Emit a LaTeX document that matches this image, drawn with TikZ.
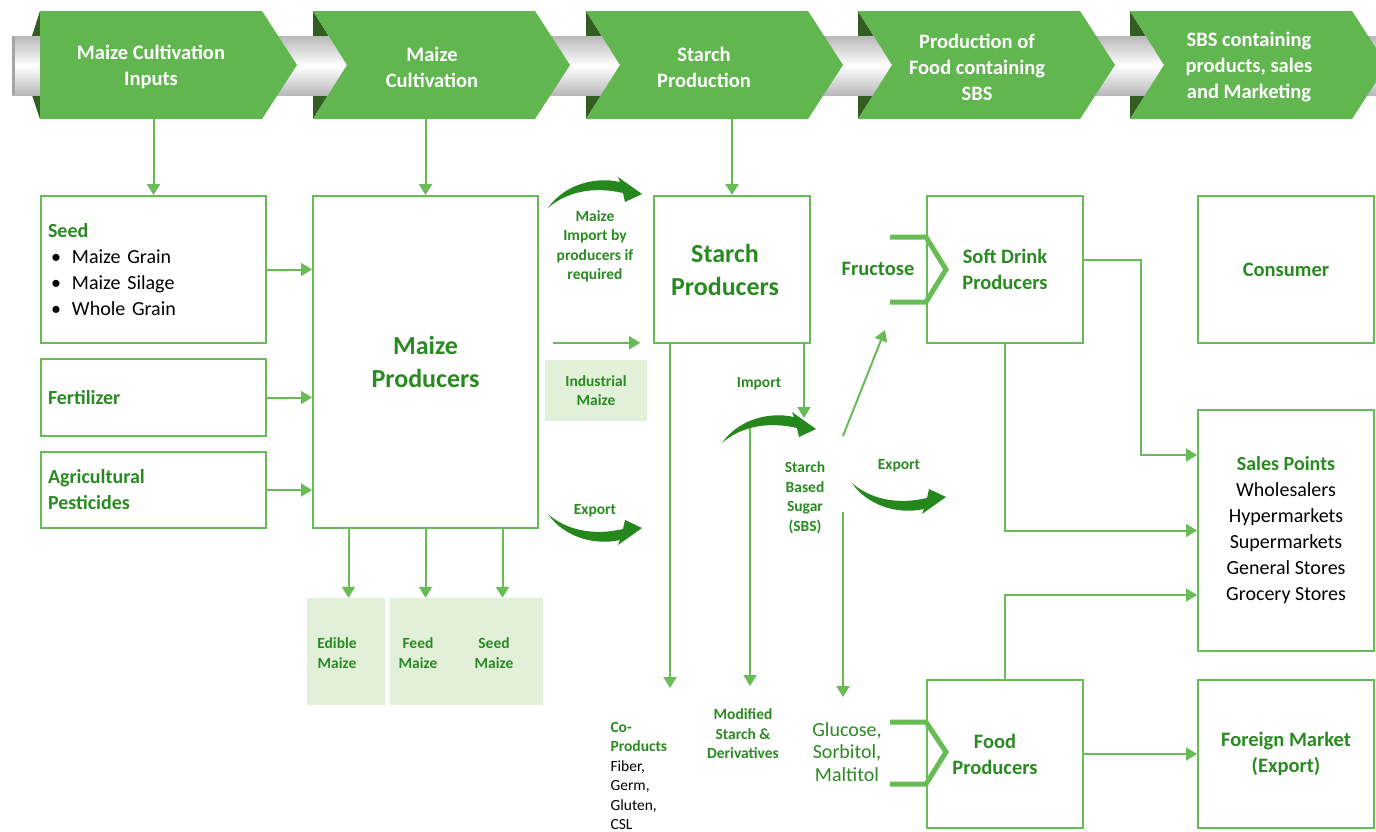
\documentclass[tikz,border=0pt]{standalone}
\usepackage{fontspec}
\setmainfont{Carlito}
\usetikzlibrary{arrows.meta,positioning}

\definecolor{bandgreen}{RGB}{98,182,80}
\definecolor{folddark}{RGB}{50,94,36}
\definecolor{linegreen}{RGB}{104,188,86}
\definecolor{textgreen}{RGB}{42,138,34}
\definecolor{palegreen}{RGB}{226,240,218}
\definecolor{arrowgreen}{RGB}{36,136,28}

\newcommand\mznormal{\fontsize{20}{26}\selectfont}
\newcommand\mzbig{\fontsize{26}{33}\selectfont}
\newcommand\mzsmall{\fontsize{15.5}{19.5}\selectfont}
\newcommand\mzbullet{\hspace*{3pt}\makebox[21pt][l]{\textbullet}}

\tikzset{
  stage/.style={text=white,font=\bfseries\fontsize{20.5}{26}\selectfont,align=center},
  box/.style={draw=linegreen,line width=2pt,inner sep=0pt},
  leftbox/.style={box,text width=211pt,align=left,font=\mznormal},
  namebox/.style={box,font=\bfseries\fontsize{20.5}{26}\selectfont,text=textgreen,align=center},
  palebox/.style={fill=palegreen,inner sep=0pt},
  smalllabel/.style={font=\bfseries\mzsmall,text=textgreen,align=center},
  flow/.style={draw=linegreen,line width=2pt,-{Triangle[length=11pt,width=13pt]}},
  bracket/.style={draw=linegreen,line width=5pt},
  curvearrow/.pic={
    \fill[arrowgreen] (0,0) .. controls (15,-22) and (45,-32) .. (72,-26)
      -- (70,-31) -- (94,-14) -- (77,-6) -- (75,-15)
      .. controls (45,-22) and (18,-16) .. cycle;
  }
}

\begin{document}
\begin{tikzpicture}[x=1pt,y=-1pt]
\useasboundingbox (0,0) rectangle (1376,831);

% stage band
\fill[folddark] (40,11) -- (32,36) -- (32,95) -- (40,119) -- cycle;
\foreach \x in {313,586,858,1130}
  \fill[folddark] (\x,11) -- ++(34,54) -- ++(-34,54) -- cycle;
\shade[top color=gray!55,bottom color=gray!55,middle color=white] (12,36) rectangle (1376,95);
\fill[gray!70] (12,36) rectangle (15,95);
\fill[bandgreen] (40,11) -- ++(222,0) -- ++(35,54) -- ++(-35,54) -- ++(-222,0) -- cycle;
\foreach \x in {313,586,858,1130}
  \fill[bandgreen] (\x,11) -- ++(222,0) -- ++(35,54) -- ++(-35,54) -- ++(-222,0) -- ++(34,-54) -- cycle;

\node[stage] (t1) at (151,67) {Maize Cultivation\\Inputs};
\node[stage] (t2) at (432,67) {Maize\\Cultivation};
\node[stage] (t3) at (704,67) {Starch\\Production};
\node[stage] (t4) at (977,67) {Production of\\Food containing\\SBS};
\node[stage] (t5) at (1249,67) {SBS containing\\products, sales\\and Marketing};

% inputs
\node[leftbox,minimum width=225pt,minimum height=147pt] (seed) at (153.5,269.5)
  {\textcolor{textgreen}{\textbf{Seed}}\\\mzbullet Maize Grain\\\mzbullet Maize Silage\\\mzbullet Whole Grain};
\node[leftbox,minimum width=225pt,minimum height=77pt] (fert) at (153.5,397.5)
  {\textcolor{textgreen}{\textbf{Fertilizer}}};
\node[leftbox,minimum width=225pt,minimum height=76pt] (pest) at (153.5,490)
  {\textcolor{textgreen}{\textbf{Agricultural\\Pesticides}}};

\node[box,minimum width=225pt,minimum height=332pt,font=\bfseries\mzbig,text=textgreen,align=center] (mp) at (425.5,362) {Maize\\Producers};

\node[palebox,minimum width=78pt,minimum height=107pt] (edible) at (346,651.5) {};
\node[palebox,minimum width=153pt,minimum height=107pt] (feedseed) at (466.5,651.5) {};
\node[smalllabel] (ediblet) at (337,653) {Edible\\Maize};
\node[smalllabel] (feedt) at (418,653) {Feed\\Maize};
\node[smalllabel] (seedt) at (494,653) {Seed\\Maize};

% starch stage
\node[box,minimum width=156pt,minimum height=147pt,font=\bfseries\mzbig,text=textgreen,align=center] (starch) at (732,269.5) {Starch\hspace*{14pt}\\Producers\hspace*{14pt}};
\node[smalllabel] (importt) at (595,246.5) {Maize\\Import by\\producers if\\required};
\node[palebox,minimum width=102pt,minimum height=61pt,smalllabel] (ind) at (596,390.5) {Industrial\\Maize};
\node[smalllabel] (exportt) at (595,511) {Export};
\node[smalllabel] (sbsimp) at (759,384) {Import};
\node[smalllabel] (sbs) at (805,497.5) {Starch\\Based\\Sugar\\(SBS)};
\node[smalllabel] (sbsexp) at (899,466) {Export};
\node[smalllabel,align=left,anchor=west] (coprod) at (607,776)
  {Co-\\Products\\\mdseries\color{black}Fiber,\\\mdseries\color{black}Germ,\\\mdseries\color{black}Gluten,\\\mdseries\color{black}CSL};
\node[smalllabel] (modif) at (743,734) {Modified\\Starch \&\\Derivatives};
\node[font=\fontsize{20}{22.5}\selectfont,text=textgreen,align=center] (gluc) at (847,752) {Glucose,\\Sorbitol,\\Maltitol};

% food stage
\node[namebox,minimum width=156pt,minimum height=147pt] (sd) at (1005,269.5) {Soft Drink\\Producers};
\node[namebox,minimum width=156pt,minimum height=148pt] (food) at (1005,754) {Food\hspace*{20pt}\\Producers\hspace*{20pt}};
\node[font=\bfseries\fontsize{20.5}{26}\selectfont,text=textgreen] (fruct) at (878,269) {Fructose};

% market stage
\node[namebox,minimum width=176pt,minimum height=147pt] (cons) at (1286,269.5) {Consumer};
\node[box,minimum width=176pt,minimum height=241pt,font=\mznormal,align=center] (sales) at (1286,530.5)
  {\textcolor{textgreen}{\textbf{Sales Points}}\\Wholesalers\\Hypermarkets\\Supermarkets\\General Stores\\Grocery Stores};
\node[namebox,minimum width=176pt,minimum height=148pt] (foreign) at (1286,754) {Foreign Market\\(Export)};

% stage arrows
\coordinate (c1) at (153.5,119);
\coordinate (c2) at (425.5,119);
\coordinate (c3) at (732,119);
\draw[flow] (c1) -- (seed.north);
\draw[flow] (c2) -- (mp.north);
\draw[flow] (c3) -- (starch.north);

\draw[flow] (seed.east) -- (seed.east -| mp.west);
\draw[flow] (fert.east) -- (fert.east -| mp.west);
\draw[flow] (pest.east) -- (pest.east -| mp.west);

\coordinate (m1) at ([xshift=-77pt]mp.south);
\coordinate (m2) at (mp.south);
\coordinate (m3) at ([xshift=77pt]mp.south);
\draw[flow] (m1) -- (m1 |- edible.north);
\draw[flow] (m2) -- (m2 |- feedseed.north);
\draw[flow] (m3) -- (m3 |- feedseed.north);

% maize into starch
\pic at (548,208) {curvearrow};
\coordinate (i1) at ([xshift=8pt,yshift=17pt]ind.north west);
\coordinate (i2) at ([xshift=-7pt,yshift=17pt]ind.north east);
\draw[flow] (i1) -- (i2);
\pic[yscale=-1] at (548,514) {curvearrow};

% starch outputs
\coordinate (s1) at ([xshift=17pt]starch.south west);
\draw[flow] (s1) -- ++(0,344);
\coordinate (s2) at ([xshift=-7pt]starch.south east);
\draw[flow] (s2) -- ++(0,74);
\pic at (722,443) {curvearrow};
\coordinate (s3) at (750,428);
\draw[flow] (s3) -- ++(0,258);
\coordinate (f1) at (843,436);
\coordinate (f1e) at (885,330);
\draw[flow] (f1) -- (f1e);
\pic[yscale=-1] at (852,483) {curvearrow};
\coordinate (g1) at (843,512);
\draw[flow] (g1) -- ++(0,185);

% brackets
\draw[bracket] ([xshift=-36pt,yshift=32.5pt]sd.west) -- ([yshift=32.5pt]sd.west)
  -- ([xshift=20pt]sd.west) -- ([yshift=-32.5pt]sd.west) -- ([xshift=-36pt,yshift=-32.5pt]sd.west);
\draw[bracket] ([xshift=-36pt,yshift=32pt]food.west) -- ([yshift=32pt]food.west)
  -- ([xshift=20pt,yshift=2pt]food.west) -- ([yshift=-30pt]food.west) -- ([xshift=-36pt,yshift=-30pt]food.west);

% to market
\draw[flow] ([yshift=10pt]sd.east) -- ++(57,0) |- ([yshift=75.5pt]sales.west);
\draw[flow] (sd.south) |- (sales.west);
\draw[flow] (food.north) |- ([yshift=-64.5pt]sales.west);
\draw[flow] (food.east) -- (foreign.west);
\end{tikzpicture}
\end{document}
